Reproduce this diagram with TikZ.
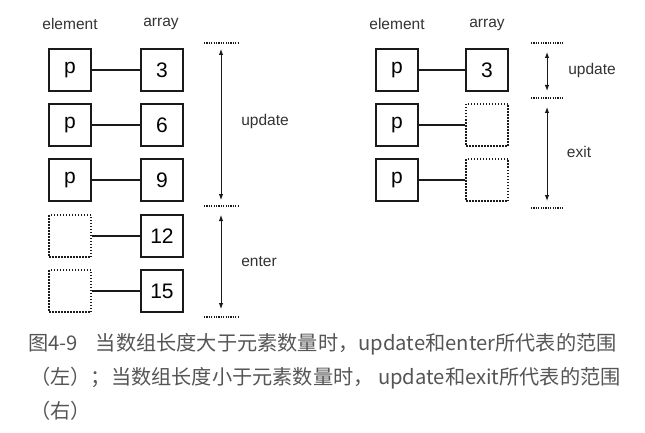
\documentclass[tikz,border=0pt]{standalone}
\usepackage{fontspec}
\setmainfont{Liberation Sans}
\newfontfamily\cjk{Noto Sans CJK SC}
\usetikzlibrary{arrows.meta}
\definecolor{boxline}{HTML}{1A1A1A}
\definecolor{labelgray}{HTML}{333333}
\definecolor{capgray}{HTML}{555555}
\tikzset{
  elbox/.style={draw=boxline, line width=1.9pt, minimum size=42pt, inner sep=0pt, font=\fontsize{21}{21}\selectfont},
  ghost/.style={draw=boxline, line width=1.5pt, dash pattern=on 1.5pt off 1.5pt, minimum size=42pt, inner sep=0pt},
  linkline/.style={draw=boxline, line width=1.5pt},
  sepline/.style={draw=boxline, line width=1.2pt, dash pattern=on 1.2pt off 1.2pt},
  spanarrow/.style={draw=boxline, line width=1pt, {Latex[length=6pt,width=4.5pt]}-{Latex[length=6pt,width=4.5pt]}},
  lab/.style={text=labelgray, font=\fontsize{15.5}{15.5}\selectfont, inner sep=0pt},
  captext/.style={text=capgray, font=\cjk\fontsize{20.2}{20.2}\selectfont, anchor=west, inner sep=0pt}
}
\begin{document}
\begin{tikzpicture}[x=1pt,y=-1pt]
\useasboundingbox[fill=white] (0,0) rectangle (645,433);
% left diagram
\node[lab] (lhe) at (70,24) {element};
\node[lab] (lha) at (161,24) {array};
\node[elbox] (le1) at (70,70) {p};
\node[elbox] (le2) at (70,125) {p};
\node[elbox] (le3) at (70,180) {p};
\node[ghost] (le4) at (70,236) {};
\node[ghost] (le5) at (70,291) {};
\node[elbox] (la1) at (162,70) {3};
\node[elbox] (la2) at (162,125) {6};
\node[elbox] (la3) at (162,180) {9};
\node[elbox] (la4) at (162,236) {12};
\node[elbox] (la5) at (162,291) {15};
\foreach \i in {1,...,5} \draw[linkline] (le\i.east) -- (la\i.west);
\coordinate (ls1a) at (204,43); \coordinate (ls1b) at (239,43);
\coordinate (ls2a) at (204,206); \coordinate (ls2b) at (239,206);
\coordinate (ls3a) at (204,317); \coordinate (ls3b) at (239,317);
\draw[sepline] (ls1a) -- (ls1b);
\draw[sepline] (ls2a) -- (ls2b);
\draw[sepline] (ls3a) -- (ls3b);
\coordinate (lu1) at (221,49); \coordinate (lu2) at (221,200);
\coordinate (ln1) at (221,215); \coordinate (ln2) at (221,309);
\draw[spanarrow] (lu1) -- (lu2);
\draw[spanarrow] (ln1) -- (ln2);
\node[lab] (lup) at (265,121) {update};
\node[lab] (len) at (259,262) {enter};
% right diagram
\node[lab] (rhe) at (397,24) {element};
\node[lab] (rha) at (487,25) {array};
\node[elbox] (re1) at (397,70) {p};
\node[elbox] (re2) at (397,125) {p};
\node[elbox] (re3) at (397,180) {p};
\node[elbox] (ra1) at (487,70) {3};
\node[ghost] (ra2) at (487,125) {};
\node[ghost] (ra3) at (487,180) {};
\foreach \i in {1,...,3} \draw[linkline] (re\i.east) -- (ra\i.west);
\coordinate (rs1a) at (531,43); \coordinate (rs1b) at (564,43);
\coordinate (rs2a) at (531,98); \coordinate (rs2b) at (564,98);
\coordinate (rs3a) at (531,208); \coordinate (rs3b) at (564,208);
\draw[sepline] (rs1a) -- (rs1b);
\draw[sepline] (rs2a) -- (rs2b);
\draw[sepline] (rs3a) -- (rs3b);
\coordinate (ru1) at (547,52); \coordinate (ru2) at (547,91);
\coordinate (rx1) at (547,107); \coordinate (rx2) at (547,201);
\draw[spanarrow] (ru1) -- (ru2);
\draw[spanarrow] (rx1) -- (rx2);
\node[lab] (rup) at (592,70) {update};
\node[lab] (rex) at (579,152) {exit};
% caption
\node[captext] (c1) at (28,344) {图4-9\hspace{0.9em}当数组长度大于元素数量时，update和enter所代表的范围};
\node[captext] (c2) at (30,378) {（左）；当数组长度小于元素数量时， update和exit所代表的范围};
\node[captext] (c3) at (30,411) {（右）};
\end{tikzpicture}
\end{document}
